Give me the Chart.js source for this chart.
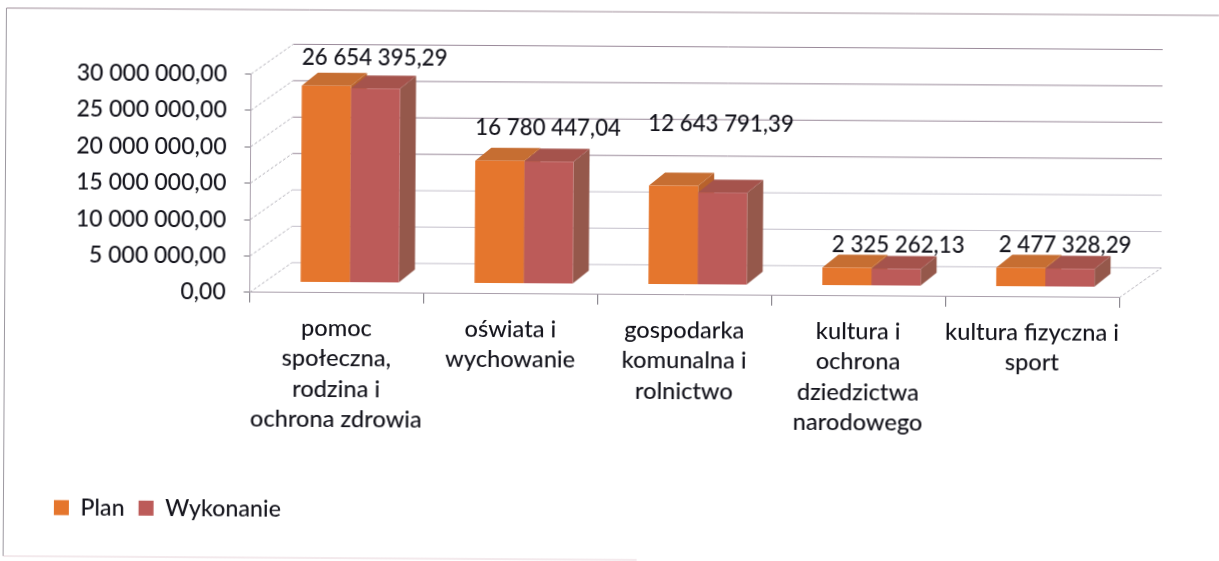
<!DOCTYPE html>
<html lang="pl">
<head>
<meta charset="utf-8">
<title>Plan i wykonanie</title>
<script src="https://cdn.jsdelivr.net/npm/chart.js@4/dist/chart.umd.min.js"></script>
<style>
    html, body { margin: 0; padding: 0; background: #fff; overflow: hidden; }
    /* the original is a slightly skewed scan */
    #chart { display: block; transform-origin: 0 0; transform: rotate(0.35deg); }
</style>
</head>
<body>
<canvas id="chart" width="1219" height="561"></canvas>
<script>
"use strict";

const categories = [
    ['pomoc', 'społeczna,', 'rodzina i', 'ochrona zdrowia'],
    ['oświata i', 'wychowanie'],
    ['gospodarka', 'komunalna i', 'rolnictwo'],
    ['kultura i', 'ochrona', 'dziedzictwa', 'narodowego'],
    ['kultura fizyczna i', 'sport'],
];
const planValues = [27000000, 16850000, 13600000, 2450000, 2600000];
const wykonanieValues = [26654395.29, 16780447.04, 12643791.39, 2325262.13, 2477328.29];
const yTicks = [0, 5000000, 10000000, 15000000, 20000000, 25000000, 30000000];

// Manual placement of the value labels, relative to the top of the Wykonanie bar
const labelLift = [31, 33, 69, 24, 24];
const labelShift = [-1, -1, -2, 2, -5];

const FONT = 'Lato, "Open Sans", sans-serif';
const TEXT = '#14141c';
const WALL = { x: 42, y: -30 };     // floor/wall depth
const BAR_OFFSET = { x: 13, y: -10.5 };
const BAR_DEPTH = { x: 16, y: -13 };

const PLAN = { front: '#e5762d', top: '#c66e32', side: '#b8622c' };
const WYK = { front: '#bc5b59', top: '#a5534c', side: '#95584b' };

// "30 000 000,00"
const formatPl = value => {
    const [whole, dec] = value.toFixed(2).split('.');
    return `${ whole.replace(/\B(?=(\d{3})+(?!\d))/g, ' ') },${ dec }`;
};

const line = (ctx, x1, y1, x2, y2) => {
    ctx.beginPath();
    ctx.moveTo(x1, y1);
    ctx.lineTo(x2, y2);
    ctx.stroke();
};

const polygon = (ctx, points, color) => {
    ctx.fillStyle = color;
    ctx.beginPath();
    points.forEach(([x, y], i) => i ? ctx.lineTo(x, y) : ctx.moveTo(x, y));
    ctx.closePath();
    ctx.fill();
};

/** Outer frame of the chart object */
const framePlugin = {
    id: 'frame',
    beforeDraw: ({ ctx }) => {
        ctx.save();
        ctx.lineWidth = 1;
        ctx.strokeStyle = '#9c98a0';
        line(ctx, 6.5, 8, 6.5, 556);
        ctx.strokeStyle = '#a08e9a';
        line(ctx, 6.5, 8, 1219, 8);
        ctx.strokeStyle = '#e8d4da';
        line(ctx, 6.5, 556, 640, 556);
        ctx.restore();
    }
};

/** Side wall, back wall and the depth faces of the bars */
const depthPlugin = {
    id: 'depth',
    beforeDatasetsDraw: chart => {
        const { ctx, chartArea: area, scales: { y } } = chart;

        ctx.save();
        ctx.lineWidth = 1;
        yTicks.forEach(tick => {
            const py = y.getPixelForValue(tick);
            // Upper lines came out darker in the scan
            ctx.strokeStyle = tick >= 15000000 ? '#9a8a9a' : '#c4c0cb';
            ctx.setLineDash([]);
            line(ctx, area.left + WALL.x, py + WALL.y, area.right + WALL.x, py + WALL.y);
            ctx.strokeStyle = '#b4b2ba';
            ctx.setLineDash([3, 2]);
            line(ctx, area.left, py, area.left + WALL.x, py + WALL.y);
        });
        const floor = y.getPixelForValue(0);
        line(ctx, area.right, floor, area.right + WALL.x, floor + WALL.y);
        ctx.restore();

        // Stays translated until the bars have been drawn
        ctx.save();
        ctx.translate(BAR_OFFSET.x, BAR_OFFSET.y);

        [PLAN, WYK].forEach((colors, datasetIndex) => {
            chart.getDatasetMeta(datasetIndex).data.forEach(bar => {
                const left = bar.x - bar.width / 2;
                const right = bar.x + bar.width / 2;
                const { x: dx, y: dy } = BAR_DEPTH;
                polygon(ctx, [[right, bar.y], [right + dx, bar.y + dy], [right + dx, bar.base + dy], [right, bar.base]], colors.side);
                polygon(ctx, [[left, bar.y], [left + dx, bar.y + dy], [right + dx, bar.y + dy], [right, bar.y]], colors.top);
            });
        });
    },
    afterDatasetsDraw: ({ ctx }) => ctx.restore()
};

/** Value labels of the Wykonanie series */
const valueLabelPlugin = {
    id: 'valueLabels',
    afterDraw: chart => {
        const { ctx } = chart;
        ctx.save();
        ctx.font = `500 22.3px ${ FONT }`;
        ctx.fillStyle = TEXT;
        ctx.textAlign = 'center';
        ctx.textBaseline = 'middle';
        chart.getDatasetMeta(1).data.forEach((bar, i) => {
            ctx.fillText(
                formatPl(wykonanieValues[i]),
                bar.x + BAR_OFFSET.x + labelShift[i],
                bar.y + BAR_OFFSET.y - labelLift[i]
            );
        });
        ctx.restore();
    }
};

const chart = new Chart(document.getElementById('chart').getContext('2d'), {
    type: 'bar',
    data: {
        labels: categories,
        datasets: [
            { label: 'Plan', data: planValues, backgroundColor: PLAN.front, clip: false },
            { label: 'Wykonanie', data: wykonanieValues, backgroundColor: WYK.front, clip: false },
        ]
    },
    options: {
        responsive: false,
        animation: false,
        categoryPercentage: 0.565,
        barPercentage: 1,
        layout: { padding: { top: 72.5, left: 43, right: 98, bottom: 32.2 } },
        plugins: {
            title: { display: false },
            tooltip: { enabled: false },
            legend: {
                position: 'bottom',
                align: 'start',
                labels: {
                    boxWidth: 15,
                    boxHeight: 15,
                    padding: 14,
                    color: TEXT,
                    font: { family: FONT, size: 23.2, weight: 500 }
                }
            }
        },
        scales: {
            x: {
                afterFit: scale => { scale.height = 190.7; },
                border: { color: '#a99fab' },
                grid: { drawOnChartArea: false, color: '#77737c', tickLength: 10 },
                ticks: {
                    color: TEXT,
                    padding: 10,
                    maxRotation: 0,
                    autoSkip: false,
                    font: { family: FONT, size: 23.6, weight: 500, lineHeight: 1.29 }
                }
            },
            y: {
                min: 0,
                max: 30000000,
                afterFit: scale => { scale.width = 208.5; },
                afterBuildTicks: scale => { scale.ticks = yTicks.map(value => ({ value })); },
                border: { color: '#a99fab' },
                grid: { drawOnChartArea: false, color: '#77737c', tickLength: 6 },
                ticks: {
                    color: TEXT,
                    padding: 18,
                    callback: value => formatPl(value),
                    font: { family: FONT, size: 23, weight: 500 }
                }
            }
        }
    },
    plugins: [framePlugin, depthPlugin, valueLabelPlugin]
});
</script>
</body>
</html>
